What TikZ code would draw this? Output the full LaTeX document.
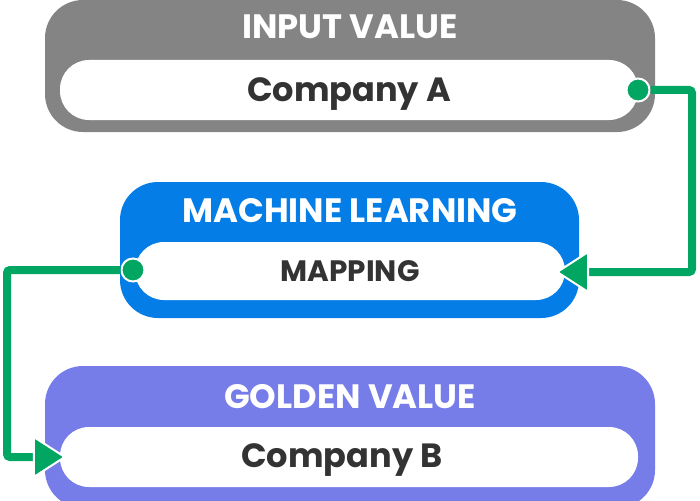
\documentclass[tikz,border=0pt]{standalone}
\usepackage{fontspec}
\setmainfont{Poppins}
\usetikzlibrary{calc}
\definecolor{grayc}{HTML}{848484}
\definecolor{bluec}{HTML}{047EE6}
\definecolor{purplec}{HTML}{767CE8}
\definecolor{greenc}{HTML}{00A661}
\definecolor{textc}{HTML}{333333}
\tikzset{
  outerbox/.style={rounded corners=38pt},
  innerbox/.style={fill=white, rounded corners=29pt},
  titletext/.style={anchor=base, text=white, font=\bfseries\fontsize{33.8}{34}\selectfont, inner sep=0pt},
  valtext/.style={anchor=base, text=textc, font=\bfseries\fontsize{33.6}{34}\selectfont, inner sep=0pt},
  smalltext/.style={anchor=base, text=textc, font=\bfseries\fontsize{29.5}{30}\selectfont, inner sep=0pt},
  dotc/.style={circle, fill=greenc, draw=white, line width=2pt, minimum size=23pt, inner sep=0pt},
  conn/.style={draw=greenc, line width=8pt, rounded corners=3pt},
  tiphead/.style={fill=greenc, draw=white, line width=2pt, line join=round, rounded corners=2.5pt},
}
\begin{document}
\begin{tikzpicture}[x=1pt,y=-1pt]
\useasboundingbox (0,0) rectangle (700,500);
% boxes
\fill[grayc, outerbox] (45,0) rectangle (655,132);
\node[innerbox, minimum width=578pt, minimum height=60pt, inner sep=0pt] (inA) at (349,90) {};
\fill[bluec, outerbox] (120,182) rectangle (579,318);
\node[innerbox, minimum width=430pt, minimum height=58pt, inner sep=0pt] (ml) at (350,271) {};
\fill[purplec, outerbox] (45,366) rectangle (655,508);
\node[innerbox, minimum width=578pt, minimum height=60pt, inner sep=0pt] (inB) at (349,457) {};
% texts
\node[titletext] (tA) at (350,39) {INPUT VALUE};
\node[valtext] (vA) at (349,102) {Company A};
\node[titletext] (tML) at (350,222) {MACHINE LEARNING};
\node[smalltext] (vML) at (350,281) {MAPPING};
\node[titletext] (tB) at (350,408) {GOLDEN VALUE};
\node[valtext] (vB) at (342,467) {Company B};
% dots
\node[dotc] (dA) at (638,90) {};
\node[dotc] (dML) at (133,270) {};
\coordinate (mlin) at ($(ml.east)+(-8,1)$);
\coordinate (bin) at ($(inB.west)+(5,0)$);
% connectors
\draw[conn] (dA.east) -- (692,90) |- ($(mlin)+(28,0)$);
\path[tiphead] (mlin) -- ($(mlin)+(31,-20)$) -- ($(mlin)+(31,20)$) -- cycle;
\draw[conn] (dML.west) -- (7,270) |- ($(bin)+(-28,0)$);
\path[tiphead] (bin) -- ($(bin)+(-31,-20)$) -- ($(bin)+(-31,20)$) -- cycle;
\end{tikzpicture}
\end{document}
